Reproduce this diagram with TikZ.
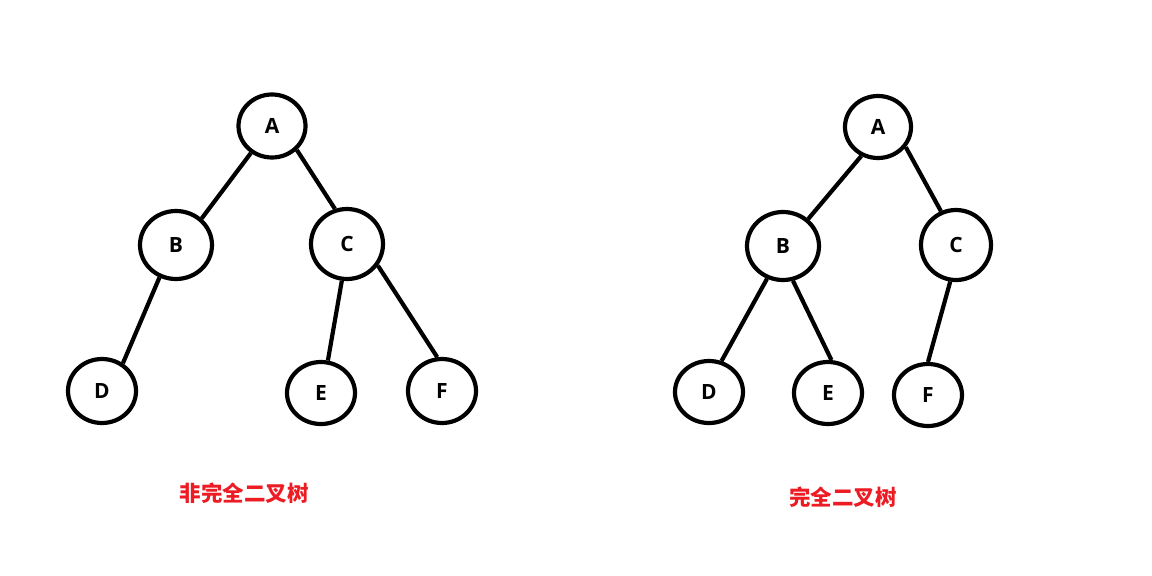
\documentclass[tikz,border=0pt]{standalone}
\usepackage{fontspec}
\setmainfont{Open Sans}
\newfontfamily\cjk{Noto Sans CJK SC}
\usetikzlibrary{shapes.geometric}
\definecolor{lblred}{RGB}{237,28,36}
\tikzset{
  tn/.style={ellipse, draw, line width=4.2pt, inner sep=0pt, font=\fontsize{21}{21}\selectfont\bfseries},
  ed/.style={line width=4.2pt},
  lbl/.style={text=lblred, font=\cjk\fontsize{21.5}{21.5}\selectfont\bfseries}
}
\begin{document}
\begin{tikzpicture}[x=1pt,y=-1pt]
\useasboundingbox[fill=white] (0,0) rectangle (1152,576);
% left tree
\node[tn, minimum width=67pt, minimum height=63pt] (LA) at (272,126) {A};
\node[tn, minimum width=72pt, minimum height=68pt] (LB) at (176,245) {B};
\node[tn, minimum width=72pt, minimum height=70pt] (LC) at (347,244) {C};
\node[tn, minimum width=68pt, minimum height=64pt] (LD) at (102,391) {D};
\node[tn, minimum width=68pt, minimum height=62pt] (LE) at (321,393) {E};
\node[tn, minimum width=68pt, minimum height=64pt] (LF) at (442,391) {F};
\draw[ed] (LA.232) -- (LB.46);
\draw[ed] (LA.316) -- (LC.109);
\draw[ed] (LB.243) -- (LD.53);
\draw[ed] (LC.262) -- (LE.78);
\draw[ed] (LC.325) -- (LF.98);
\node[lbl] (L1) at (244,493) {非完全二叉树};
% right tree
\node[tn, minimum width=66pt, minimum height=62pt] (RA) at (878,127) {A};
\node[tn, minimum width=72pt, minimum height=68pt] (RB) at (783,246) {B};
\node[tn, minimum width=70pt, minimum height=70pt] (RC) at (956,245) {C};
\node[tn, minimum width=68pt, minimum height=62pt] (RD) at (709,392) {D};
\node[tn, minimum width=68pt, minimum height=62pt] (RE) at (828,393) {E};
\node[tn, minimum width=68pt, minimum height=62pt] (RF) at (928,395) {F};
\draw[ed] (RA.240) -- (RB.47);
\draw[ed] (RA.324) -- (RC.114);
\draw[ed] (RB.244) -- (RD.68);
\draw[ed] (RB.286) -- (RE.84);
\draw[ed] (RC.261) -- (RF.90);
\node[lbl] (L2) at (843,497) {完全二叉树};
\end{tikzpicture}
\end{document}
